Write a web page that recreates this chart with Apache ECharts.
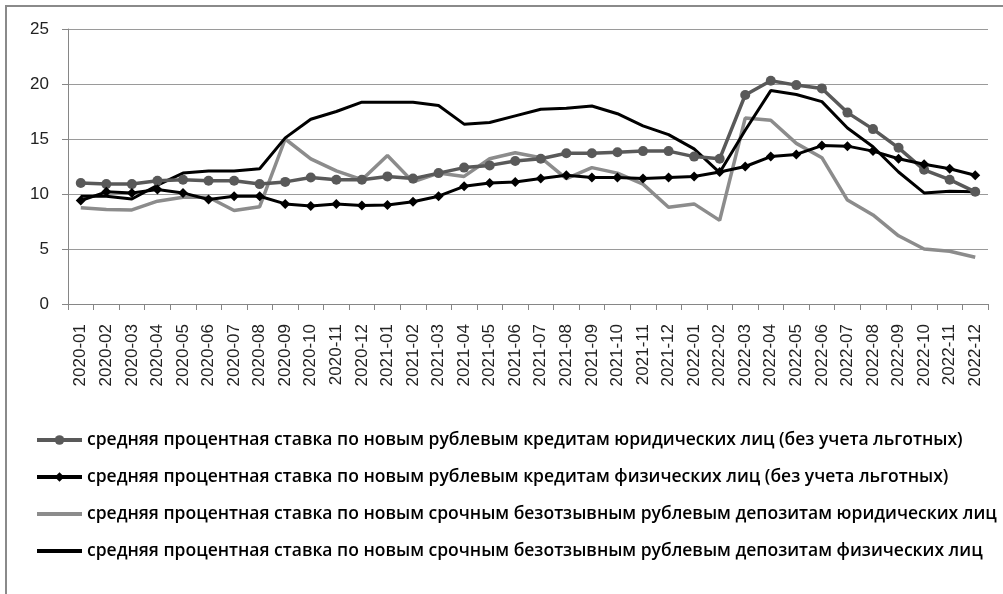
<!DOCTYPE html>
<html>
<head>
<meta charset="utf-8">
<script src="https://cdn.jsdelivr.net/npm/echarts@6/dist/echarts.min.js"></script>
<style>
  html, body { margin: 0; padding: 0; background: #fff; }
  #chart { width: 1003px; height: 594px; }
</style>
</head>
<body>
<div id="chart"></div>
<script>
var months = [
  "2020-01","2020-02","2020-03","2020-04","2020-05","2020-06","2020-07","2020-08","2020-09","2020-10","2020-11","2020-12",
  "2021-01","2021-02","2021-03","2021-04","2021-05","2021-06","2021-07","2021-08","2021-09","2021-10","2021-11","2021-12",
  "2022-01","2022-02","2022-03","2022-04","2022-05","2022-06","2022-07","2022-08","2022-09","2022-10","2022-11","2022-12"
];

var loansCorp = [11.0, 10.9, 10.9, 11.2, 11.3, 11.2, 11.2, 10.9, 11.1, 11.5, 11.3, 11.3,
  11.6, 11.4, 11.9, 12.4, 12.6, 13.0, 13.2, 13.7, 13.7, 13.8, 13.9, 13.9,
  13.4, 13.2, 19.0, 20.3, 19.9, 19.6, 17.4, 15.9, 14.2, 12.2, 11.3, 10.2];

var loansPersonal = [9.4, 10.2, 10.1, 10.4, 10.1, 9.5, 9.8, 9.8, 9.1, 8.9, 9.1, 8.95,
  9.0, 9.3, 9.8, 10.7, 11.0, 11.1, 11.4, 11.7, 11.5, 11.5, 11.4, 11.5,
  11.6, 12.0, 12.5, 13.4, 13.6, 14.4, 14.35, 13.9, 13.2, 12.7, 12.3, 11.7];

var depositsCorp = [8.75, 8.6, 8.55, 9.35, 9.7, 9.7, 8.5, 8.85, 15.0, 13.2, 12.1, 11.3,
  13.5, 11.1, 11.9, 11.6, 13.2, 13.75, 13.3, 11.4, 12.4, 11.9, 10.9, 8.8,
  9.1, 7.6, 16.9, 16.7, 14.6, 13.3, 9.45, 8.1, 6.2, 5.0, 4.8, 4.25];

var depositsPersonal = [9.8, 9.8, 9.55, 10.8, 11.9, 12.1, 12.1, 12.3, 15.1, 16.8, 17.5, 18.35,
  18.35, 18.35, 18.05, 16.35, 16.5, 17.1, 17.7, 17.8, 18.0, 17.3, 16.2, 15.4,
  14.1, 11.95, 15.8, 19.4, 19.05, 18.4, 16.0, 14.3, 12.0, 10.1, 10.25, 10.2];

var seriesNames = [
  "средняя процентная ставка по новым рублевым кредитам юридических лиц (без учета льготных)",
  "средняя процентная ставка по новым рублевым кредитам физических лиц (без учета льготных)",
  "средняя процентная ставка по новым срочным безотзывным рублевым депозитам юридических лиц",
  "средняя процентная ставка по новым срочным безотзывным рублевым депозитам физических лиц"
];

var chart = echarts.init(document.getElementById("chart"));
var option = {
  animation: false,
  backgroundColor: "#fff",
  graphic: [{
    type: "rect",
    shape: { x: 6, y: 6, width: 1010, height: 600 },
    style: { fill: null, stroke: "#8a8a8a", lineWidth: 2 },
    silent: true
  }],
  grid: { left: 68, right: 15, top: 29, bottom: 290 },
  legend: {
    orient: "vertical",
    left: 30,
    top: 426,
    itemGap: 19,
    itemWidth: 45,
    itemHeight: 12,
    lineStyle: { width: 4 },
    textStyle: { fontSize: 17.5, fontWeight: 600, color: "#000", fontFamily: "Open Sans, sans-serif" },
    data: [
      { name: seriesNames[0] },
      { name: seriesNames[1] },
      { name: seriesNames[2], itemStyle: { opacity: 0 } },
      { name: seriesNames[3], itemStyle: { opacity: 0 } }
    ]
  },
  xAxis: {
    type: "category",
    data: months,
    boundaryGap: true,
    axisLine: { lineStyle: { color: "#868686", width: 1 } },
    axisTick: { show: true, length: 6, lineStyle: { color: "#868686" } },
    axisLabel: { rotate: 90, interval: 0, fontSize: 17, color: "#222", margin: 20, fontFamily: "Liberation Sans, sans-serif" }
  },
  yAxis: {
    type: "value",
    min: 0,
    max: 25,
    interval: 5,
    axisLine: { show: true, lineStyle: { color: "#868686" } },
    axisTick: { show: true, length: 6, lineStyle: { color: "#868686" } },
    splitLine: { lineStyle: { color: "#9a9a9a", width: 1 } },
    axisLabel: { fontSize: 17, color: "#222", margin: 19, fontFamily: "Liberation Sans, sans-serif" }
  },
  series: [
    {
      name: seriesNames[0], type: "line", data: loansCorp,
      symbol: "circle", symbolSize: 10, showSymbol: true,
      lineStyle: { color: "#595959", width: 3.5 },
      itemStyle: { color: "#595959" }, z: 4
    },
    {
      name: seriesNames[1], type: "line", data: loansPersonal,
      symbol: "diamond", symbolSize: 10, showSymbol: true,
      lineStyle: { color: "#000", width: 3 },
      itemStyle: { color: "#000" }, z: 5
    },
    {
      name: seriesNames[2], type: "line", data: depositsCorp,
      symbol: "none", showSymbol: false,
      lineStyle: { color: "#8c8c8c", width: 3.5 },
      itemStyle: { color: "#8c8c8c" }, z: 2
    },
    {
      name: seriesNames[3], type: "line", data: depositsPersonal,
      symbol: "none", showSymbol: false,
      lineStyle: { color: "#000", width: 3 },
      itemStyle: { color: "#000" }, z: 3
    }
  ]
};
chart.setOption(option);
</script>
</body>
</html>
